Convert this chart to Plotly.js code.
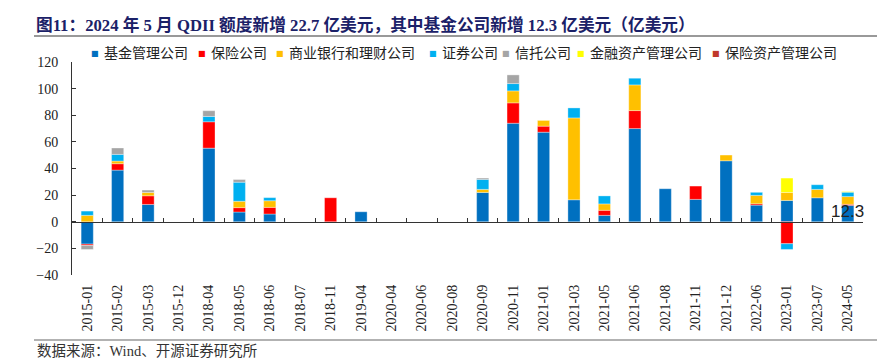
<!DOCTYPE html>
<html>
<head>
<meta charset="utf-8">
<script src="https://cdn.plot.ly/plotly-3.0.1.min.js"></script>
<style>html,body{margin:0;padding:0;background:#fff;}#chart{width:890px;height:362px;}</style>
</head>
<body>
<div id="chart"></div>
<script>
const categories = ["2015-01","2015-02","2015-03","2015-12","2018-04","2018-05","2018-06","2018-07","2018-11","2019-04","2020-04","2020-06","2020-08","2020-09","2020-11","2021-01","2021-03","2021-05","2021-06","2021-08","2021-11","2021-12","2022-06","2023-01","2023-07","2024-05"];

const fundCompany      = [-16.8, 38.8, 13.0, 0, 55.3, 7.3, 5.8, 0, 0, 7.5, 0, 0, 0, 22.0, 74.0, 67.3, 16.5, 4.8, 70.0, 24.8, 16.8, 45.8, 12.5, 16.0, 18.0, 12.3];
const insuranceCompany = [-1.0, 4.8, 6.5, 0, 19.8, 3.3, 5.0, 0, 18.0, 0, 0, 0, 0, 0, 15.3, 4.5, 0, 3.8, 13.5, 0, 10.0, 0, 1.0, -16.5, 0, 0.8];
const bankWealth       = [4.8, 2.0, 2.5, 0, 0, 4.8, 5.0, 0, 0, 0, 0, 0, 0, 2.3, 9.0, 4.3, 61.5, 4.8, 19.3, 0, 0, 4.3, 6.3, 6.0, 6.3, 5.8];
const securities       = [3.2, 5.0, 0, 0, 4.0, 14.3, 2.3, 0, 0, 0, 0, 0, 0, 7.5, 5.5, 0, 7.5, 6.0, 5.0, 0, 0, 0, 2.3, -4.3, 3.5, 3.3];
const trust            = [-3.0, 4.8, 1.8, 0, 4.3, 2.0, 0, 0, 0, 0, 0, 0, 0, 1.0, 6.5, 0, 0, 0, 0, 0, 0, 0, 0, 0, 0, 0];
const assetMgmtCo      = [0, 0, 0, 0, 0, 0, 0, 0, 0, 0, 0, 0, 0, 0, 0, 0, 0, 0, 0, 0, 0, 0, 0, 10.8, 0, 0.5];
const insuranceAM      = [0, 0, 0, 0, 0, 0, 0, 0, 0, 0, 0, 0, 0, 0, 0, 0, 0, 0, 0, 0, 0, 0, 0, 0, 0, 0];

const seriesNames  = ["基金管理公司","保险公司","商业银行和理财公司","证券公司","信托公司","金融资产管理公司","保险资产管理公司"];
const seriesValues = [fundCompany, insuranceCompany, bankWealth, securities, trust, assetMgmtCo, insuranceAM];
const seriesColors = ["#0070C0","#FF0000","#FFC000","#00B0F0","#A5A5A5","#FFFF00","#C0392B"];

const titleText = "图11：2024 年 5 月 QDII 额度新增 22.7 亿美元，其中基金公司新增 12.3 亿美元（亿美元）";
const sourceText = "数据来源：Wind、开源证券研究所";
const labelText = "12.3";
const labelCategory = "2024-05";

const traces = seriesNames.map((name, i) => ({
  type: "bar",
  name: name,
  x: categories,
  y: seriesValues[i].map(v => v === 0 ? null : v),
  marker: {color: seriesColors[i], line: {width: 0.6, color: "rgba(255,255,255,0.55)"}},
  showlegend: false,
  hovertemplate: "%{x}<br>" + name + ": %{y}<extra></extra>"
}));
// helper (invisible) trace so the zero-level axis has categories for boundary ticks
traces.push({type: "scatter", mode: "none", x: categories, y: fundCompany, xaxis: "x2", yaxis: "y", hoverinfo: "skip", showlegend: false});

// plot area geometry (pixels) for paper-coordinate conversion
const W = 890, H = 362, L = 72, R = 27, T = 62, B = 87;
const pw = W - L - R, ph = H - T - B;
const px = x => (x - L) / pw;
const py = y => (H - B - y) / ph;

const annotations = [];
const legendSq = [94.5, 201.5, 279.5, 432.5, 505.5, 580.5, 715.5];
const legendTx = [102, 209, 287, 440, 513, 588, 723];
seriesNames.forEach((name, i) => {
  annotations.push({xref: "paper", yref: "paper", x: px(legendSq[i]), y: py(53), xanchor: "center", yanchor: "middle",
    text: "■", showarrow: false, font: {family: "DejaVu Sans", size: 8, color: seriesColors[i]}});
  annotations.push({xref: "paper", yref: "paper", x: px(legendTx[i]), y: py(52.5), xanchor: "left", yanchor: "middle",
    text: name, showarrow: false, font: {family: "Noto Sans CJK SC", size: 14, color: "#222"}});
});
annotations.push({xref: "x", yref: "y", x: labelCategory, y: 0, xanchor: "center", yanchor: "bottom", yshift: -1,
  text: labelText, showarrow: false, font: {family: "Liberation Sans Narrow, Liberation Sans, Arial", size: 17, color: "#222"}});
annotations.push({xref: "paper", yref: "paper", x: px(35), y: py(351), xanchor: "left", yanchor: "middle",
  text: sourceText, showarrow: false, font: {family: "Liberation Serif, Noto Sans CJK SC", size: 14.5, color: "#333"}});

const shapes = [
  {type: "line", xref: "paper", yref: "paper", x0: px(34), x1: px(877), y0: py(36), y1: py(36), line: {color: "#999", width: 2}},
  {type: "line", xref: "paper", yref: "paper", x0: px(34), x1: px(877), y0: py(340), y1: py(340), line: {color: "#999", width: 1.5}}
];

const layout = {
  width: W, height: H,
  margin: {l: L, r: R, t: T, b: B, pad: 0},
  paper_bgcolor: "#fff", plot_bgcolor: "#fff",
  barmode: "relative", bargap: 0.6,
  title: {text: titleText, x: 36 / W, xanchor: "left", xref: "container", y: 1 - 25 / H, yref: "container", yanchor: "middle",
    font: {family: "Liberation Serif, Noto Sans CJK SC", size: 16.7, color: "#1B2168", weight: "bold"}},
  xaxis: {type: "category", categoryorder: "array", categoryarray: categories, range: [-0.5, categories.length - 0.5],
    tickangle: -90, ticks: "", showline: false, showgrid: false, zeroline: false, ticklabelstandoff: 6,
    tickfont: {family: "Liberation Serif", size: 14, color: "#222"}},
  xaxis2: {type: "category", overlaying: "x", anchor: "free", position: 0.25, categoryorder: "array", categoryarray: categories,
    range: [-0.5, categories.length - 0.5], showline: true, linecolor: "#333", linewidth: 1,
    ticks: "inside", tickson: "boundaries", ticklen: 4, tickcolor: "#333", showticklabels: false, showgrid: false, zeroline: false},
  yaxis: {range: [-40, 120], dtick: 20, showline: true, linecolor: "#333", linewidth: 1, ticks: "inside", ticklen: 4, tickcolor: "#333",
    showgrid: false, zeroline: false, ticklabelstandoff: 10, tickfont: {family: "Liberation Serif", size: 14, color: "#222"}},
  annotations: annotations,
  shapes: shapes,
  showlegend: false
};

Plotly.newPlot("chart", traces, layout, {displayModeBar: false, staticPlot: false});
</script>
</body>
</html>
